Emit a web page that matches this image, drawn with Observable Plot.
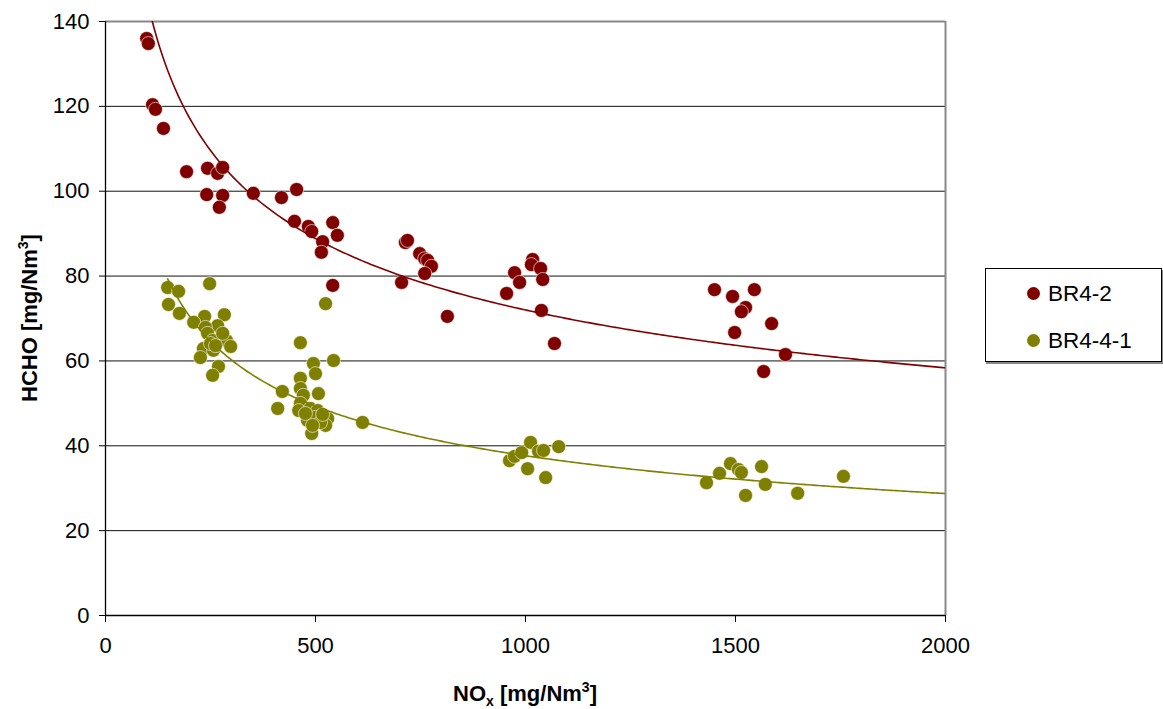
<!DOCTYPE html>
<html><head><meta charset="utf-8">
<script src="https://cdn.jsdelivr.net/npm/d3@7"></script>
<script src="https://cdn.jsdelivr.net/npm/@observablehq/plot@0.6"></script>
<style>
body{margin:0;background:#fff;font-family:"Liberation Sans",Arial,sans-serif;}
#wrap{position:relative;width:1163px;height:709px;overflow:hidden;}
#legend{position:absolute;left:985px;top:268px;width:177px;height:94px;border:1px solid #000;box-shadow:1px 2px 0 #888;background:#fff;box-sizing:border-box;}
.item{position:absolute;left:41px;height:26px;font-size:22.5px;line-height:26px;color:#000;white-space:nowrap;}
.sw{display:inline-block;width:13px;height:13px;border-radius:50%;margin-right:8px;vertical-align:middle;position:relative;top:-2px;}
</style></head>
<body><div id="wrap"><div id="legend"></div></div>
<script>
const seriesNames = ["BR4-2", "BR4-4-1"];
const seriesColors = ["#800000", "#808000"];
const xTicks = [0, 500, 1000, 1500, 2000];
const yTicks = [0, 20, 40, 60, 80, 100, 120, 140];

const br42X = [98,102,112,119,138,193,243,267,279,241,279,271,352,419,455,450,483,491,541,552,517,514,541,714,719,748,760,767,776,760,705,814,1017,1014,1036,974,986,1041,955,1038,1069,1450,1493,1545,1524,1514,1586,1498,1619,1567];
const br42Y = [136.0,134.8,120.4,119.3,114.8,104.6,105.4,104.2,105.6,99.2,99.0,96.2,99.5,98.5,100.4,92.9,91.7,90.5,92.6,89.6,88.1,85.6,77.8,87.9,88.4,85.3,84.1,83.7,82.3,80.6,78.5,70.5,83.9,82.7,81.8,80.8,78.5,79.2,75.9,71.9,64.1,76.8,75.2,76.8,72.6,71.6,68.8,66.7,61.5,57.5];

const br441X = [148,174,248,150,176,236,283,210,267,238,243,255,288,298,233,257,226,269,255,250,279,262,
  524,464,495,543,500,464,464,421,507,471,410,464,460,488,505,481,500,529,524,491,612,512,476,517,493,
  962,974,991,1012,1031,1043,1005,1048,1079,
  1488,1462,1431,1507,1514,1562,1571,1524,1648,1757];
const br441Y = [77.3,76.4,78.2,73.3,71.2,70.5,70.9,69.1,68.3,67.9,66.5,64.8,64.8,63.4,62.9,62.5,60.8,58.7,56.6,64.1,66.5,63.6,
  73.5,64.3,59.4,60.1,57.0,55.9,53.5,52.8,52.3,51.9,48.8,50.0,48.3,48.8,48.3,46.0,46.7,46.4,44.8,42.9,45.5,45.5,47.6,47.4,44.8,
  36.5,37.5,38.4,40.8,38.7,38.9,34.6,32.5,39.8,
  35.8,33.5,31.3,34.4,33.7,35.1,30.9,28.3,28.8,32.8];

// Power trendlines y = a·x^b, coefficients
const trendA = [584, 557];
const trendB = [-0.303, -0.390];
const trendStart = [98, 148];

function toRows(xs, ys, s){ return xs.map((x,i)=>({x, y: ys[i], s})); }
const points = [...toRows(br42X, br42Y, seriesNames[0]), ...toRows(br441X, br441Y, seriesNames[1])];

function trend(k){
  const a = trendA[k], b = trendB[k], s = seriesNames[k];
  const x0 = trendStart[k], x1 = xTicks[xTicks.length-1];
  return d3.range(0, 301).map(i => { const x = x0 + (x1-x0)*i/300; return {x, y: a*Math.pow(x, b), s}; });
}
const trends = [...trend(0), ...trend(1)];

const font = '"Liberation Sans", Arial, sans-serif';
const chart = Plot.plot({
  width: 1163, height: 709,
  marginLeft: 105, marginRight: 218, marginTop: 21, marginBottom: 94,
  style: {fontFamily: font, fontSize: "22px", color: "#000", background: "#fff"},
  x: {domain: [0, 2000], label: null},
  y: {domain: [0, 140], label: null},
  color: {domain: seriesNames, range: seriesColors},
  marks: [
    Plot.ruleY(yTicks.filter(v => v > 0 && v < 140), {stroke: "#111", strokeWidth: 1}),
    Plot.ruleY([140], {stroke: "#888", strokeWidth: 2}),
    Plot.ruleX([2000], {stroke: "#888", strokeWidth: 2}),
    Plot.ruleX([0], {stroke: "#000", strokeWidth: 1.3}),
    Plot.ruleY([0], {stroke: "#000", strokeWidth: 1.3}),
    Plot.axisX({ticks: xTicks, tickSize: 7, tickPadding: 15, fontSize: 22, tickFormat: d => String(d)}),
    Plot.axisY({ticks: yTicks, tickSize: 6, tickPadding: 10, fontSize: 22, tickFormat: d => String(d)}),
    Plot.dot(points, {x: "x", y: "y", fill: "s", r: 7, stroke: "#fff", strokeWidth: 0.6}),
    Plot.line(trends, {x: "x", y: "y", z: "s", stroke: "s", strokeWidth: 1.6, clip: true})
  ]
});
document.getElementById("wrap").prepend(chart);

const svg = d3.select(chart);
const yl = svg.append("text").attr("transform", "translate(37,318) rotate(-90)")
  .attr("text-anchor", "middle").attr("font-weight", "bold").attr("font-size", 22).attr("font-family", font).attr("fill", "#000");
yl.append("tspan").text("HCHO [mg/Nm");
yl.append("tspan").attr("font-size", 14).attr("dy", -9).text("3");
yl.append("tspan").attr("dy", 9).text("]");
const xl = svg.append("text").attr("x", 525).attr("y", 701)
  .attr("text-anchor", "middle").attr("font-weight", "bold").attr("font-size", 22).attr("font-family", font).attr("fill", "#000");
xl.append("tspan").text("NO");
xl.append("tspan").attr("font-size", 14).attr("dy", 5).text("x");
xl.append("tspan").attr("dy", -5).text(" [mg/Nm");
xl.append("tspan").attr("font-size", 14).attr("dy", -9).text("3");
xl.append("tspan").attr("dy", 9).text("]");

const legend = document.getElementById("legend");
seriesNames.forEach((n, i) => {
  const d = document.createElement("div");
  d.className = "item";
  d.style.top = (12 + i*47) + "px";
  d.innerHTML = `<span class="sw" style="background:${seriesColors[i]}"></span>${n}`;
  legend.appendChild(d);
});
</script>
</body></html>
